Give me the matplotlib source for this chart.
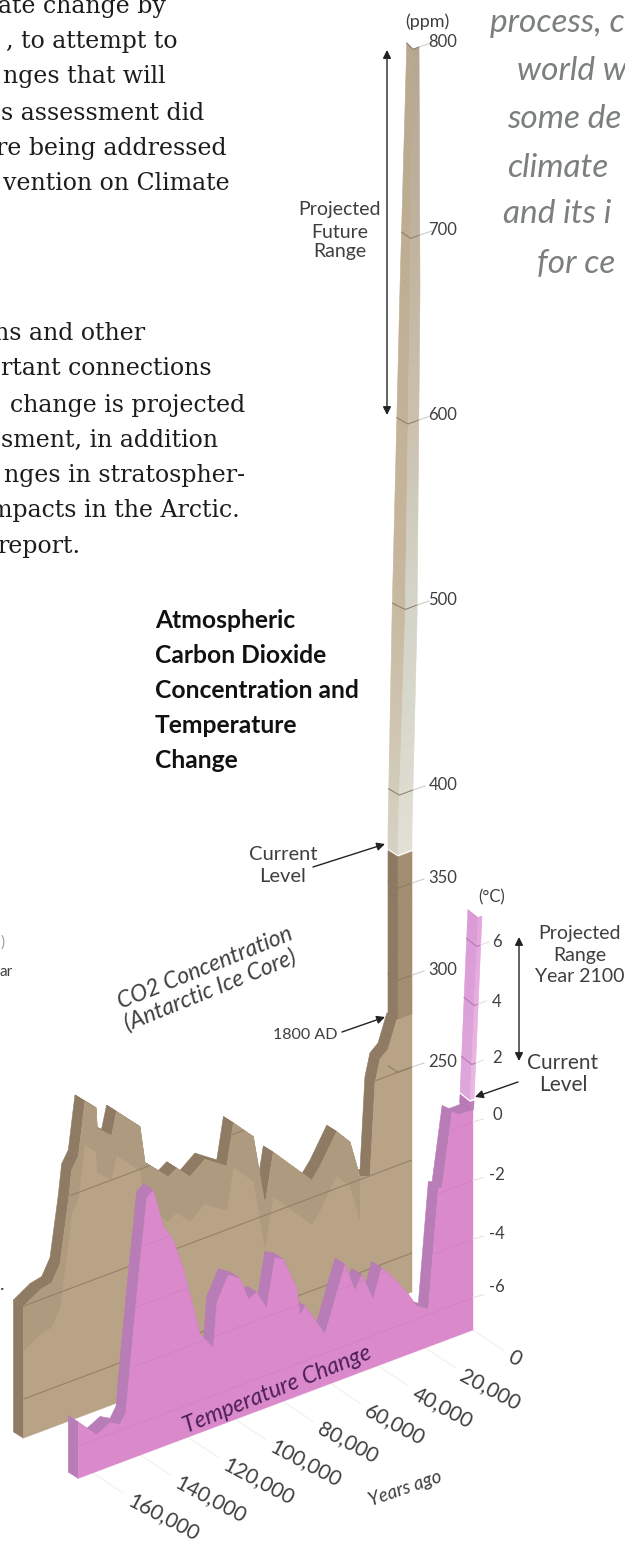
import matplotlib
matplotlib.use("Agg")
import matplotlib.pyplot as plt
import numpy as np
from matplotlib.colors import to_rgb
from matplotlib.patches import Polygon

# CO2 ice core record (thousand years ago, ppm)
co2_years = [163.6, 156.6, 151.7, 148.2, 144.7, 143.3, 140.5, 137.7, 133.0, 132.5, 126.5,
             124.4, 114.5, 112.4, 107.5, 102.6, 99.1, 93.5, 87.2, 78.0, 75.2, 66.8, 61.9,
             58.4, 42.2, 38.7, 31.7, 26.1, 21.9, 17.7, 15.6, 13.5, 10.1, 6.4, 0.0]
co2_ppm = [199.9, 205.4, 206.8, 215.3, 247.4, 263.5, 269.7, 298.2, 292.3, 280.8, 274.1,
           286.2, 273.1, 252.4, 246.3, 240.2, 243.2, 235.9, 242.2, 234.1, 256.1, 244.6, 205.8,
           232.2, 209.4, 215.2, 230.5, 222.2, 201.5, 199.9, 248.9, 260.8, 264.5, 278.9, 278.9]
co2_floor = 129
co2_now = 368
co2_top = 800

# temperature record (thousand years ago, deg C)
temp_years = [166.2, 158.5, 152.8, 148.6, 146.1, 144.4, 140.9, 137.4, 134.6, 130.4, 126.2,
              122.0, 114.9, 109.3, 107.9, 103.0, 98.1, 94.6, 91.1, 86.9, 83.4, 79.9, 74.2,
              72.8, 70.7, 67.9, 62.3, 53.9, 49.7, 46.9, 42.0, 38.5, 34.9, 27.9, 23.7, 18.8,
              14.6, 13.0, 8.8, 5.9, 0.0]
temp_deg = [-5.18, -5.85, -5.61, -5.80, -5.46, -3.91, -1.04, 1.58, 1.76, 0.42, -0.19,
            -1.27, -3.74, -4.38, -2.88, -2.08, -2.35, -3.17, -3.04, -3.70, -2.09, -2.25, -3.43,
            -4.37, -4.13, -4.52, -5.34, -3.22, -4.24, -3.79, -4.77, -3.81, -4.15, -4.96, -5.56, -5.83,
            -1.81, -1.85, 0.61, 0.42, 0.42]
temp_floor = -7.1
temp_now = 0.8
temp_top = 7.0

ppm_ticks = [250, 300, 350, 400, 500, 600, 700, 800]
temp_ticks = [-6, -4, -2, 0, 2, 4, 6]
year_ticks = [0, 20, 40, 60, 80, 100, 120, 140, 160]

body_top = ["ate change by", ", to attempt to", "nges that will", "s assessment did",
            "re being addressed", "vention on Climate"]
body_low = ["ns and other", "rtant connections", "change is projected", "sment, in addition",
            "nges in stratospher-", "mpacts in the Arctic.", "report."]
quote = ["process, c", "world w", "some de", "climate", "and its i", "for ce"]
title = ["Atmospheric", "Carbon Dioxide", "Concentration and", "Temperature", "Change"]

BROWN = "#b9a386"
BROWN_MID = "#ae9a7e"
BROWN_DARK = "#8f7b63"
PINK = "#da8aca"
PINK_DARK = "#b87cb6"
INK = "#3f3f3f"

PX_PER_KYR = 2.375
SLOPE = 0.376
DEPTH = (-10, -6.3)
CO2_RIGHT = 412
TEMP_RIGHT = 473

fig = plt.figure(figsize=(6.25, 15.46), dpi=100)
ax = fig.add_axes([0, 0, 1, 1])
ax.set_xlim(0, 625)
ax.set_ylim(1546, 0)
ax.axis("off")


def co2_scale(ppm):
    return np.interp(ppm, [100, 250, 300, 350, 400, 500, 600, 700, 800],
                     [1346, 1067, 975, 883, 790, 605, 420, 235, 47])


def temp_scale(t):
    return np.interp(t, [-7.1, 0, 2, 4, 6, 7], [1330, 1122, 1063, 1004, 945, 916])


def slab_xy(years, values, right, scale):
    x = right - np.asarray(years) * PX_PER_KYR
    y = scale(np.asarray(values)) + SLOPE * (right - x)
    return np.column_stack([x, y])


def draw_slab(years, values, floor, right, scale, face, dark, z):
    top = slab_xy(years, values, right, scale)
    start = slab_xy(years[:1], [floor], right, scale)
    edge = np.vstack([start, top])
    for a, b in zip(edge[:-1], edge[1:]):
        ax.add_patch(Polygon([a, b, b + DEPTH, a + DEPTH], fc=dark, ec=dark, lw=0.4, zorder=z))
    base = slab_xy([years[0], 0], [floor, floor], right, scale)
    outline = np.vstack([top, base[::-1]])
    front = Polygon(outline, fc=face, ec=face, lw=0.3, zorder=z + 0.1)
    ax.add_patch(front)
    return front


def mix(stops, level):
    levels = [s[0] for s in stops]
    rgb = np.array([to_rgb(s[1]) for s in stops])
    return tuple(np.interp(level, levels, rgb[:, i]) for i in range(3))


def draw_column(levels, scale, edges, left_stops, right_stops, rise, z):
    for low, high in zip(levels[:-1], levels[1:]):
        y0, y1 = scale(low), scale(high)
        l0, m0, r0 = edges(y0)
        l1, m1, r1 = edges(y1)
        ym0 = y0 + SLOPE * (r0 - m0)
        ym1 = y1 + SLOPE * (r1 - m1)
        c = mix(left_stops, high)
        ax.add_patch(Polygon([(l0, ym0 - rise), (m0, ym0), (m1, ym1), (l1, ym1 - rise)],
                             fc=c, ec=c, lw=0.4, zorder=z))
        c = mix(right_stops, high)
        ax.add_patch(Polygon([(m0, ym0), (r0, y0), (r1, y1), (m1, ym1)],
                             fc=c, ec=c, lw=0.4, zorder=z))


def co2_edges(y):
    knots = [40, 290, 620, 830, 1030]
    return (np.interp(y, knots, [407, 400, 392, 388, 388]),
            np.interp(y, knots, [413, 410, 405, 398, 398]),
            np.interp(y, knots, [419, 420, 417, 412, 412]))


def temp_edges(y):
    knots = [915, 1125]
    return (np.interp(y, knots, [468, 459]),
            np.interp(y, knots, [478, 469]),
            np.interp(y, knots, [482, 473]))


# CO2 slab
co2_front = draw_slab(co2_years, co2_ppm, co2_floor, CO2_RIGHT, co2_scale, BROWN, BROWN_DARK, 2)
shade_years = [y for y in co2_years if y >= 21]
shade_vals = [v for y, v in zip(co2_years, co2_ppm) if y >= 21]
shade_top = slab_xy(shade_years, shade_vals, CO2_RIGHT, co2_scale)
shade_low = slab_xy(shade_years, [v - 24 for v in shade_vals], CO2_RIGHT, co2_scale)
ax.add_patch(Polygon(np.vstack([shade_top, shade_low[::-1]]), fc=BROWN_MID, ec="none", zorder=2.2))
for p in [150, 200, 250]:
    line = slab_xy([170, 0], [p, p], CO2_RIGHT, co2_scale)
    ln, = ax.plot(line[:, 0], line[:, 1], color="#93806a", lw=0.8, zorder=2.3)
    ln.set_clip_path(co2_front)

draw_column(np.arange(278.9, co2_now + 1, 4), co2_scale, co2_edges,
            [(276, BROWN_DARK), (co2_now, "#8c7960")], [(276, "#a38d71"), (co2_now, "#a38d71")], 6.3, 2.4)
draw_column(np.arange(co2_now, co2_top + 1, 4), co2_scale, co2_edges,
            [(co2_now, "#d6d2c4"), (450, "#cec3ad"), (520, "#c6b69d"), (600, "#c3b297"), (800, "#b8a88e")],
            [(co2_now, "#e2dfd4"), (450, "#d8d7cc"), (520, "#d3d2c6"), (600, "#cbc1ae"), (800, "#b5a68f")], 6.3, 2.4)

for p in ppm_ticks:
    y = co2_scale(p)
    l, m, r = co2_edges(y)
    ym = y + SLOPE * (r - m)
    ax.plot([l, m, r], [ym - 6.3, ym, y], color="#8a7a64", lw=0.7, zorder=2.5)
    ax.plot([r, r + 12], [y, y - 4], color="#cfcfc8", lw=0.8, zorder=2.5)
    ax.text(443, y - 5, str(p), ha="center", va="center", fontsize=12, color=INK, family="Lato")

# temperature slab
temp_front = draw_slab(temp_years, temp_deg, temp_floor, TEMP_RIGHT, temp_scale, PINK, PINK_DARK, 3)
for t in temp_ticks:
    if t <= 0:
        line = slab_xy([170, 0], [t, t], TEMP_RIGHT, temp_scale)
        ln, = ax.plot(line[:, 0], line[:, 1], color="#d283c3", lw=0.7, zorder=3.3)
        ln.set_clip_path(temp_front)

draw_column(np.arange(0.42, temp_now + 0.01, 0.1), temp_scale, temp_edges,
            [(0.4, "#b878b4"), (0.8, "#b878b4")], [(0.4, "#c07cb9"), (0.8, "#c07cb9")], 8, 3.4)
draw_column(np.arange(temp_now, temp_top + 0.01, 0.1), temp_scale, temp_edges,
            [(temp_now, "#dda6da"), (temp_top, "#db9ad6")], [(temp_now, "#ecb8e4"), (temp_top, "#e3a5dc")], 8, 3.4)

for t, ty in zip(temp_ticks, [1287, 1234, 1175, 1115, 1058, 1002, 942]):
    y = temp_scale(t)
    if t > 0:
        l, m, r = temp_edges(y)
        ym = y + SLOPE * (r - m)
        ax.plot([l, m, r], [ym - 8, ym, y], color="#b878b4", lw=0.8, zorder=3.5)
        ax.plot([r, r + 8], [y, y - 3], color="#eed9ea", lw=0.8, zorder=3.5)
    else:
        ax.plot([TEMP_RIGHT, TEMP_RIGHT + 10], [y, y - 3], color="#eed9ea", lw=0.8, zorder=3.5)
    ax.text(497, ty, str(t), ha="center", va="center", fontsize=12, color=INK, family="Lato")

# years axis under the pink slab
for yr in year_ticks:
    base = slab_xy([yr], [temp_floor], TEMP_RIGHT, temp_scale)[0]
    ax.plot([base[0], base[0] + 30], [base[1], base[1] + 20], color="#f0f0f0", lw=0.8, zorder=1)
    label = "0" if yr == 0 else f"{yr},000"
    ax.text(base[0] + 36, base[1] + 26, label, rotation=-28, rotation_mode="anchor",
            ha="left", va="center", fontsize=15, color=INK, family="Lato", zorder=4)

# page text around the figure
for line, right, y in zip(body_top, [166, 178, 166, 204, 227, 230], [13, 48, 83, 120, 155, 190]):
    ax.text(right, y, line, ha="right", va="baseline", fontsize=17, color="#1c1c1c", family="DejaVu Serif")
for line, right, y in zip(body_low, [145, 212, 245, 218, 245, 240, 80], [340, 375, 412, 447, 482, 517, 553]):
    ax.text(right, y, line, ha="right", va="baseline", fontsize=17, color="#1c1c1c", family="DejaVu Serif")
for line, x, y in zip(quote, [490, 517, 507, 507, 503, 537], [32, 80, 128, 177, 223, 273]):
    ax.text(x, y, line, ha="left", va="baseline", fontsize=24, style="italic", color="#7b7f80", family="Lato")
for line, y in zip(title, [628, 663, 698, 733, 768]):
    ax.text(155, y, line, ha="left", va="baseline", fontsize=17.7, weight="bold", color="#111111", family="Lato")

# labels
ax.text(427, 22, "(ppm)", ha="center", va="center", fontsize=13, color=INK, family="Lato")
for line, y in zip(["Projected", "Future", "Range"], [210, 232, 252]):
    ax.text(340, y, line, ha="center", va="center", fontsize=14, color=INK, family="Lato")
for line, y in zip(["Current", "Level"], [855, 877]):
    ax.text(283, y, line, ha="center", va="center", fontsize=14.5, color=INK, family="Lato")
ax.text(305, 1035, "1800 AD", ha="center", va="center", fontsize=11.5, color=INK, family="Lato")
ax.text(492, 897, "(°C)", ha="center", va="center", fontsize=12, color=INK, family="Lato")
for line, y in zip(["Projected", "Range", "Year 2100"], [933, 955, 977]):
    ax.text(580, y, line, ha="center", va="center", fontsize=14, color=INK, family="Lato")
for line, y in zip(["Current", "Level"], [1063, 1085]):
    ax.text(563, y, line, ha="center", va="center", fontsize=15, color=INK, family="Lato")
ax.text(205, 968, "CO2 Concentration", rotation=22, ha="center", va="center", fontsize=16.5,
        style="italic", color=INK, family="Lato")
ax.text(210, 990, "(Antarctic Ice Core)", rotation=22, ha="center", va="center", fontsize=16.5,
        style="italic", color=INK, family="Lato")
ax.text(277, 1390, "Temperature Change", rotation=22, ha="center", va="center", fontsize=16.5,
        style="italic", color="#4b1f55", family="Lato", zorder=5)
ax.text(405, 1489, "Years ago", rotation=19, ha="center", va="center", fontsize=13.5,
        style="italic", color=INK, family="Lato")
ax.text(0, 972, "ar", ha="left", va="center", fontsize=11, color=INK, family="Lato")
ax.text(0, 943, ")", ha="left", va="center", fontsize=11, color="#999999", family="Lato")
ax.text(0, 1285, ".", ha="left", va="center", fontsize=14, color=INK, family="Lato")

# arrows
double = dict(arrowstyle="<|-|>", color="#222222", lw=1, shrinkA=0, shrinkB=0, mutation_scale=12)
single = dict(arrowstyle="-|>", color="#222222", lw=1, shrinkA=0, shrinkB=0, mutation_scale=12)
ax.annotate("", xy=(387, 50), xytext=(387, 415), arrowprops=double)
ax.annotate("", xy=(519, 937), xytext=(519, 1061), arrowprops=double)
ax.annotate("", xy=(385, 844), xytext=(313, 867), arrowprops=single)
ax.annotate("", xy=(385, 1017), xytext=(342, 1032), arrowprops=single)
ax.annotate("", xy=(475, 1097), xytext=(518, 1082), arrowprops=single, zorder=6)

fig.savefig("out.png", dpi=100)
